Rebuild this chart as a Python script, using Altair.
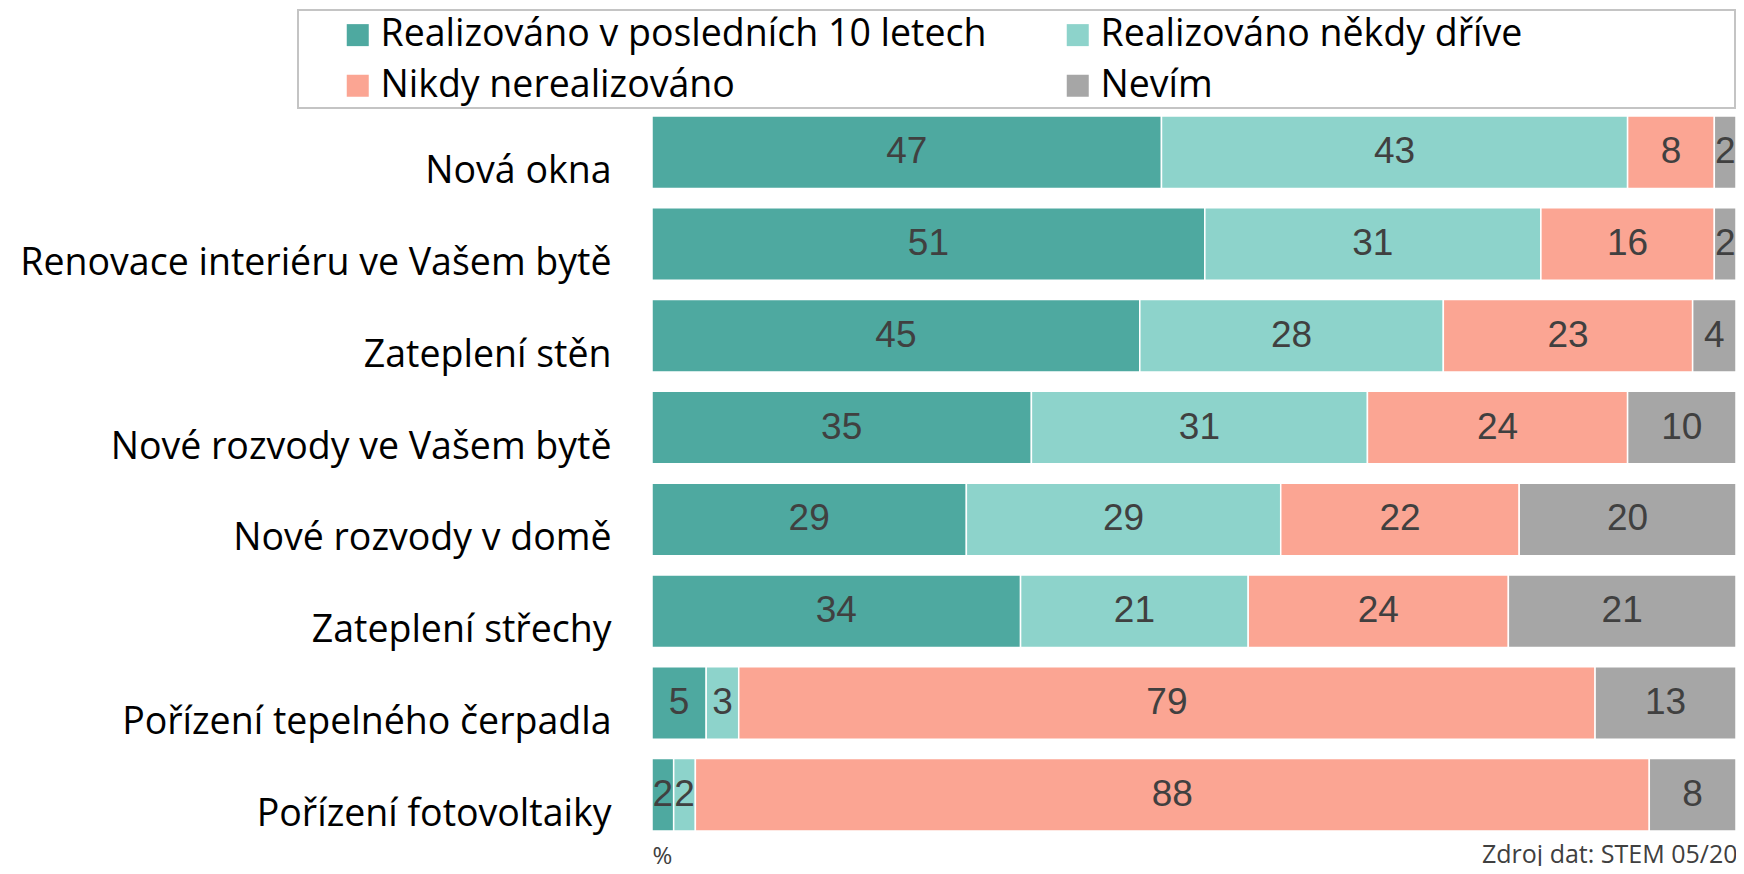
import altair as alt
import pandas as pd

categories = [
    "Nová okna",
    "Renovace interiéru ve Vašem bytě",
    "Zateplení stěn",
    "Nové rozvody ve Vašem bytě",
    "Nové rozvody v domě",
    "Zateplení střechy",
    "Pořízení tepelného čerpadla",
    "Pořízení fotovoltaiky",
]
series = [
    "Realizováno v posledních 10 letech",
    "Realizováno někdy dříve",
    "Nikdy nerealizováno",
    "Nevím",
]
colors = ["#4EA9A0", "#8DD3CB", "#FBA593", "#A6A6A6"]

last10 = [47, 51, 45, 35, 29, 34, 5, 2]
earlier = [43, 31, 28, 31, 29, 21, 3, 2]
never = [8, 16, 23, 24, 22, 24, 79, 88]
dunno = [2, 2, 4, 10, 20, 21, 13, 8]

rows = []
for i, c in enumerate(categories):
    for k, (s, vals) in enumerate(zip(series, [last10, earlier, never, dunno])):
        rows.append({"kategorie": c, "odpověď": s, "poradi": k, "hodnota": vals[i]})
df = pd.DataFrame(rows)

FONT = "Open Sans"

base = alt.Chart(df).transform_stack(
    stack="hodnota",
    groupby=["kategorie"],
    as_=["x0", "x1"],
    sort=[alt.SortField("poradi", order="ascending")],
).transform_calculate(mid="(datum.x0 + datum.x1) / 2")

y_enc = alt.Y(
    "kategorie:N",
    sort=categories,
    title=None,
    scale=alt.Scale(paddingInner=0.21, paddingOuter=0.11),
    axis=alt.Axis(
        ticks=False,
        domain=False,
        labelFont=FONT,
        labelFontSize=37.5,
        labelColor="#000000",
        labelPadding=41,
        labelLimit=800,
        labelOffset=20,
    ),
)

x_scale = alt.Scale(domain=[0, 100], nice=False, zero=True)

bars = base.mark_bar(stroke="white", strokeWidth=1.5, clip=True).encode(
    y=y_enc,
    x=alt.X(
        "x0:Q",
        scale=x_scale,
        axis=alt.Axis(
            labels=False,
            ticks=False,
            domain=False,
            grid=False,
            title="%",
            titleFont=FONT,
            titleFontSize=24,
            titleFontWeight="normal",
            titleColor="#404040",
            titleAnchor="start",
            titleAlign="left",
            titleBaseline="alphabetic",
            titleX=0,
            titleY=22,
        ),
    ),
    x2="x1:Q",
    color=alt.Color(
        "odpověď:N",
        sort=series,
        scale=alt.Scale(domain=series, range=colors),
        legend=alt.Legend(
            title=None,
            orient="none",
            legendX=-313,
            legendY=-90,
            columns=2,
            direction="horizontal",
            gridAlign="all",
            columnPadding=72,
            rowPadding=12,
            symbolType="square",
            symbolSize=484,
            symbolStrokeWidth=0,
            symbolOffset=0,
            labelOffset=4,
            labelFont=FONT,
            labelFontSize=37.5,
            labelColor="#000000",
            labelLimit=900,
            padding=0,
        ),
    ),
    order=alt.Order("poradi:Q"),
)

labels = base.mark_text(
    font="Liberation Sans", fontSize=37, color="#404040", clip=True, baseline="middle"
).encode(
    y=alt.Y("kategorie:N", sort=categories),
    x=alt.X("mid:Q", scale=x_scale),
    text=alt.Text("hodnota:Q"),
)

frame_df = pd.DataFrame({"k": [0]})
frame = alt.Chart(frame_df).mark_rect(
    fill=None, stroke="#c4c4c4", strokeWidth=2
).encode(
    x=alt.value(-354), x2=alt.value(1083), y=alt.value(-96), y2=alt.value(2)
)

source_df = pd.DataFrame({"t": ["Zdroj dat: STEM 05/2024"]})
source = alt.Chart(source_df).mark_text(
    font=FONT, fontSize=25, color="#404040", align="left", baseline="alphabetic"
).encode(x=alt.value(830), y=alt.value(757), text="t:N")

chart = alt.layer(frame, bars, labels, source).properties(
    width=1084,
    height=735,
    autosize=alt.AutoSizeParams(type="none"),
    padding={"left": 644, "top": 98, "right": 0, "bottom": 25},
    background="white",
).configure_view(stroke=None)

chart.save("out.html", embed_options={"renderer": "svg", "actions": False})
